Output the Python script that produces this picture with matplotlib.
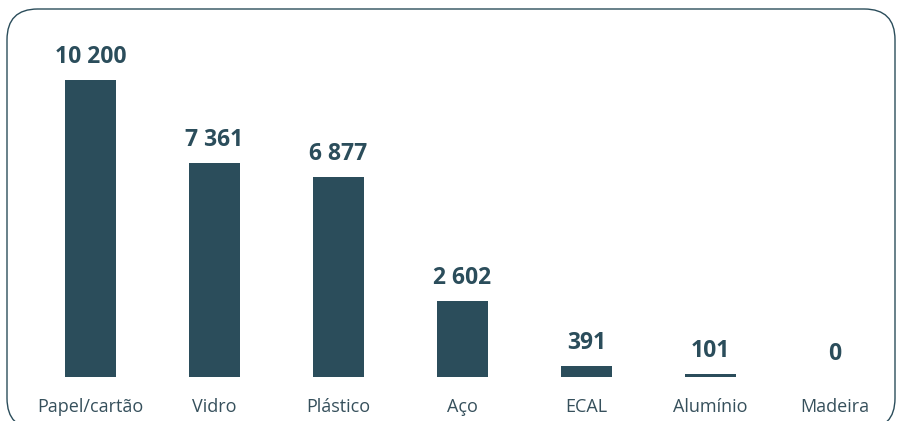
import matplotlib.pyplot as plt
from matplotlib.patches import FancyBboxPatch

categories = ["Papel/cartão", "Vidro", "Plástico", "Aço", "ECAL", "Alumínio", "Madeira"]
values = [10200, 7361, 6877, 2602, 391, 101, 0]

color = "#2b4d5b"
plt.rcParams["font.family"] = ["Open Sans", "DejaVu Sans"]

W, H = 903, 421
fig = plt.figure(figsize=(W / 100, H / 100), dpi=100)

# rounded frame, bottom edge just below the image
frame = FancyBboxPatch((7 / W, -8 / H), 888 / W, (H - 9 + 8) / H,
                       boxstyle="round,pad=0,rounding_size=0.034",
                       transform=fig.transFigure, fill=False,
                       edgecolor=color, linewidth=1.0, mutation_aspect=W / H)
fig.patches.append(frame)

ax = fig.add_axes([28.5 / W, 1 - 377 / H, 868 / W, 377 / H])
x = range(len(categories))
ax.bar(x, values, width=0.41, color=color)
ax.set_xlim(-0.5, 6.5)
ax.set_ylim(0, 10200 * 377 / 297)

for i, v in enumerate(values):
    ax.annotate(f"{v:,}".replace(",", " "), (i, v), xytext=(0, 8),
                textcoords="offset points", ha="center", va="bottom",
                fontsize=16.5, fontweight="bold", color=color)

ax.set_xticks(list(x))
ax.set_xticklabels(categories, fontsize=13, color="#36505c")
ax.tick_params(axis="x", length=0, pad=15)
ax.set_yticks([])
for s in ax.spines.values():
    s.set_visible(False)
ax.patch.set_alpha(0)

fig.savefig("out.png", dpi=100)
